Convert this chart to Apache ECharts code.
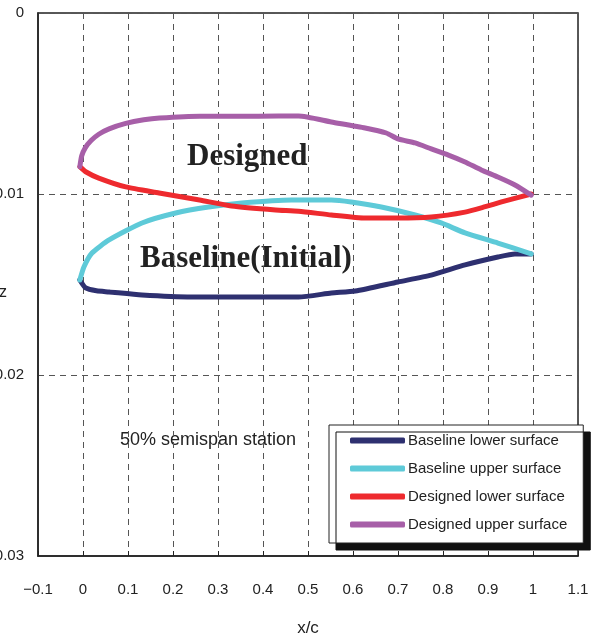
<!DOCTYPE html>
<html>
  <head>
    <meta charset="utf-8">
    <script src="https://cdn.jsdelivr.net/npm/echarts@6/dist/echarts.min.js"></script>
    <style>
      html, body { margin: 0; padding: 0; background: #fff; }
      #chart { width: 598px; height: 636px; }
    </style>
  </head>
  <body>
    <div id="chart"></div>
    <script>
      // x/c, z pairs
      const baselineLower = [
        [-0.007, -0.01475], [0.006, -0.01519], [0.03, -0.01535], [0.058, -0.01541],
        [0.131, -0.01558], [0.242, -0.01569], [0.39, -0.01569], [0.479, -0.01569],
        [0.552, -0.01547], [0.605, -0.01536], [0.70, -0.01486], [0.774, -0.01448],
        [0.849, -0.01392], [0.922, -0.01348], [0.96, -0.01331], [0.996, -0.01331]
      ];
      const baselineUpper = [
        [-0.007, -0.01475], [0.002, -0.01403], [0.02, -0.01326], [0.058, -0.01254],
        [0.131, -0.0116], [0.206, -0.01105], [0.279, -0.01072], [0.353, -0.0105],
        [0.463, -0.01033], [0.552, -0.01033], [0.596, -0.01044], [0.663, -0.01072],
        [0.738, -0.01116], [0.796, -0.0116], [0.849, -0.01215], [0.922, -0.01271],
        [0.996, -0.01331]
      ];
      const designedLower = [
        [-0.007, -0.00849], [0.006, -0.00877], [0.035, -0.00912], [0.095, -0.00961],
        [0.169, -0.00994], [0.259, -0.01033], [0.33, -0.01066], [0.428, -0.01088],
        [0.479, -0.01095], [0.552, -0.01116], [0.627, -0.01133], [0.70, -0.01133],
        [0.774, -0.01127], [0.849, -0.0110], [0.894, -0.0107], [0.93, -0.01044],
        [0.996, -0.0100]
      ];
      const designedUpper = [
        [-0.007, -0.00849], [-0.003, -0.0079], [0.005, -0.00745], [0.018, -0.00705],
        [0.035, -0.0067], [0.058, -0.0064], [0.095, -0.0061], [0.135, -0.0059],
        [0.17, -0.0058], [0.26, -0.0057], [0.39, -0.0057], [0.479, -0.00569],
        [0.552, -0.00602], [0.627, -0.00635], [0.674, -0.00663], [0.70, -0.00696],
        [0.738, -0.00718], [0.774, -0.00751], [0.812, -0.00785], [0.849, -0.00823],
        [0.885, -0.00867], [0.922, -0.00906], [0.960, -0.0095], [0.996, -0.01006]
      ];
      const seriesNames = ['Baseline lower surface', 'Baseline upper surface',
                           'Designed lower surface', 'Designed upper surface'];
      const seriesColors = ['#2e3070', '#5ecad8', '#ee2a2e', '#a75fa8'];
      const seriesData = [baselineLower, baselineUpper, designedLower, designedUpper];

      const fmt = v => {
        const n = parseFloat(Number(v).toFixed(3));
        return n < 0 ? '\u2212' + (-n) : String(n);
      };
      const labelFont = '"Liberation Sans", Arial, sans-serif';
      const serifBold = 'bold 31px "Liberation Serif", "Times New Roman", serif';

      const chart = echarts.init(document.getElementById('chart'));
      chart.setOption({
        animation: false,
        grid: {
          left: 38, right: 20, top: 13, bottom: 80,
          containLabel: false, outerBoundsMode: 'none',
          show: true, borderColor: '#222', borderWidth: 1.5
        },
        xAxis: {
          type: 'value', min: -0.1, max: 1.1, interval: 0.1,
          name: 'x/c', nameLocation: 'middle', nameGap: 64, nameMoveOverlap: false,
          nameTextStyle: { fontSize: 17, color: '#222', fontFamily: labelFont },
          axisLine: { show: true, onZero: false, lineStyle: { color: '#222', width: 1.5 } },
          axisTick: { show: true, inside: true, length: 5, lineStyle: { color: '#222' } },
          axisLabel: { margin: 26, fontSize: 15, color: '#222', fontFamily: labelFont, formatter: fmt },
          splitLine: { show: true, lineStyle: { type: [6, 5], color: '#555', width: 1 } }
        },
        yAxis: {
          type: 'value', min: -0.03, max: 0, interval: 0.01,
          name: 'z', nameLocation: 'middle', nameGap: 31, nameRotate: 0, nameMoveOverlap: false,
          nameTextStyle: { fontSize: 16, color: '#222', fontFamily: labelFont, verticalAlign: 'top' },
          axisLine: { show: true, onZero: false, lineStyle: { color: '#222', width: 1.5 } },
          axisTick: { show: false },
          axisLabel: { margin: 14, fontSize: 15, color: '#222', fontFamily: labelFont, formatter: fmt },
          splitLine: { show: true, lineStyle: { type: [6, 5], color: '#555', width: 1 } }
        },
        legend: {
          orient: 'vertical', left: 329, top: 425,
          data: seriesNames,
          icon: 'roundRect', itemWidth: 55, itemHeight: 6, itemGap: 13,
          padding: [8, 16, 11, 21],
          backgroundColor: '#fff', borderColor: '#222', borderWidth: 1,
          shadowColor: '#111', shadowBlur: 0, shadowOffsetX: 7, shadowOffsetY: 7,
          textStyle: { fontSize: 15, lineHeight: 15, color: '#222', fontFamily: labelFont, padding: [0, 0, 0, -2] }
        },
        graphic: [
          { type: 'text', x: 187, y: 157,
            style: { text: 'Designed', font: serifBold, fill: '#222', verticalAlign: 'middle' } },
          { type: 'text', x: 140, y: 259,
            style: { text: 'Baseline(Initial)', font: serifBold, fill: '#222', verticalAlign: 'middle' } },
          { type: 'text', x: 120, y: 440,
            style: { text: '50% semispan station', font: '18px ' + labelFont, fill: '#222', verticalAlign: 'middle' } }
        ],
        series: seriesNames.map((name, i) => ({
          name: name,
          type: 'line',
          data: seriesData[i],
          showSymbol: false,
          smooth: 0.2,
          color: seriesColors[i],
          lineStyle: { width: 5, cap: 'round', join: 'round' }
        }))
      });
    </script>
  </body>
</html>
